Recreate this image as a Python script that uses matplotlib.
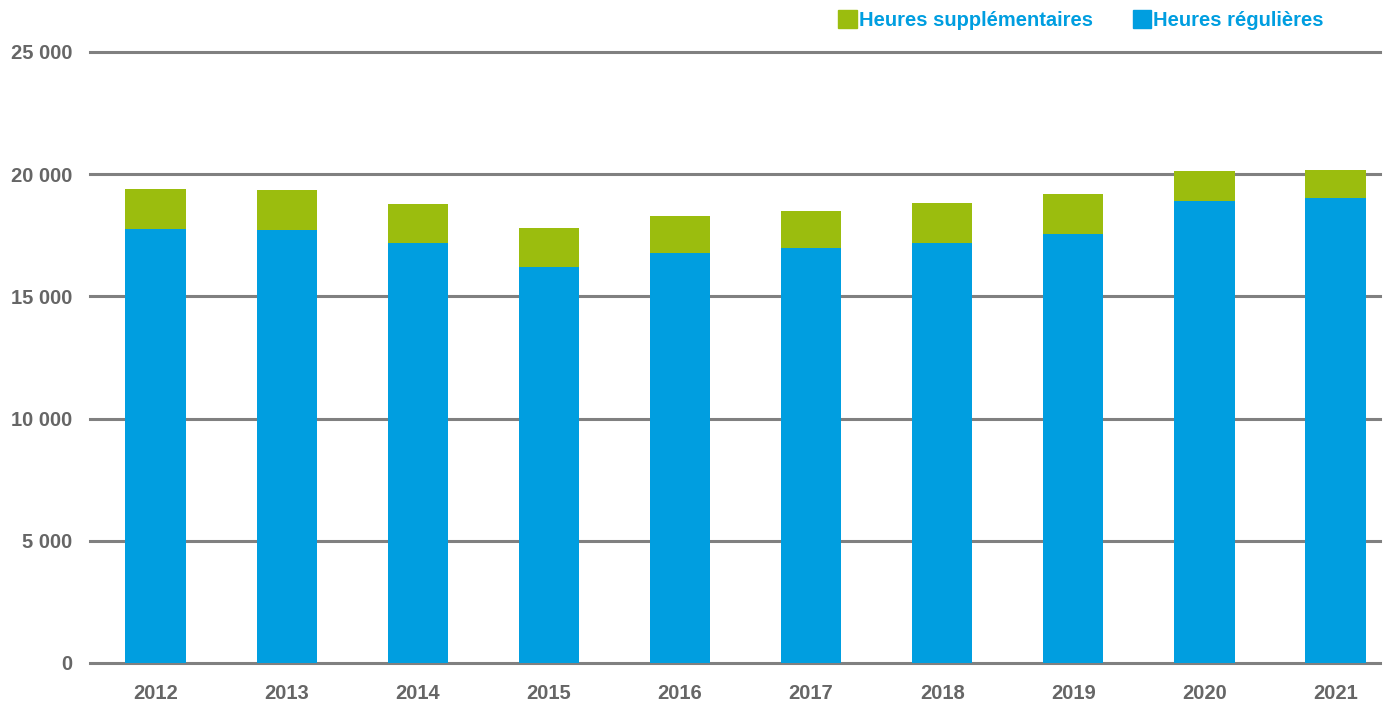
import numpy as np
import matplotlib.pyplot as plt
from matplotlib.patches import Patch

plt.rcParams['font.family'] = ['Liberation Sans', 'DejaVu Sans']

# Data
years = ['2012', '2013', '2014', '2015', '2016', '2017', '2018', '2019', '2020', '2021']
regulieres = [17760, 17720, 17180, 16200, 16780, 16980, 17180, 17550, 18900, 19030]
supplementaires = [1630, 1630, 1600, 1600, 1510, 1510, 1640, 1640, 1230, 1140]

blue = '#009EE0'
green = '#9BBD0E'
grey = '#666666'

fig = plt.figure(figsize=(13.86, 7.02), dpi=100)
ax = fig.add_axes([0.065, 0.0556, 0.9307, 0.8704])

x = np.arange(len(years))
ax.bar(x, regulieres, width=0.46, color=blue, zorder=3)
ax.bar(x, supplementaires, width=0.46, bottom=regulieres, color=green, zorder=3)

ax.set_ylim(0, 25000)
ax.set_xlim(-0.5, 9.34)
ax.set_yticks(np.arange(0, 25001, 5000))
ax.set_yticklabels(['0' if v == 0 else f'{v // 1000} 000' for v in range(0, 25001, 5000)])
ax.set_xticks(x)
ax.set_xticklabels(years)

ax.yaxis.grid(True, color='#808080', linewidth=2.2, zorder=0)
for gl in ax.get_ygridlines():
    gl.set_clip_on(False)
ax.set_axisbelow(True)
for s in ax.spines.values():
    s.set_visible(False)
ax.tick_params(axis='both', length=0, labelsize=14.5, labelcolor=grey)
ax.tick_params(axis='y', pad=13)
ax.tick_params(axis='x', pad=15)
for lbl in ax.get_xticklabels() + ax.get_yticklabels():
    lbl.set_fontweight('bold')

handles = [Patch(color=green, label='Heures supplémentaires'),
           Patch(color=blue, label='Heures régulières')]
fig.legend(handles=handles, loc='upper right', bbox_to_anchor=(0.968, 1.011), ncol=2,
           frameon=False, handlelength=0.9, handleheight=1.0, handletextpad=0.1,
           columnspacing=2.0, labelcolor=blue,
           prop={'size': 14.5, 'weight': 'bold'})

fig.savefig('out.png', dpi=100)
